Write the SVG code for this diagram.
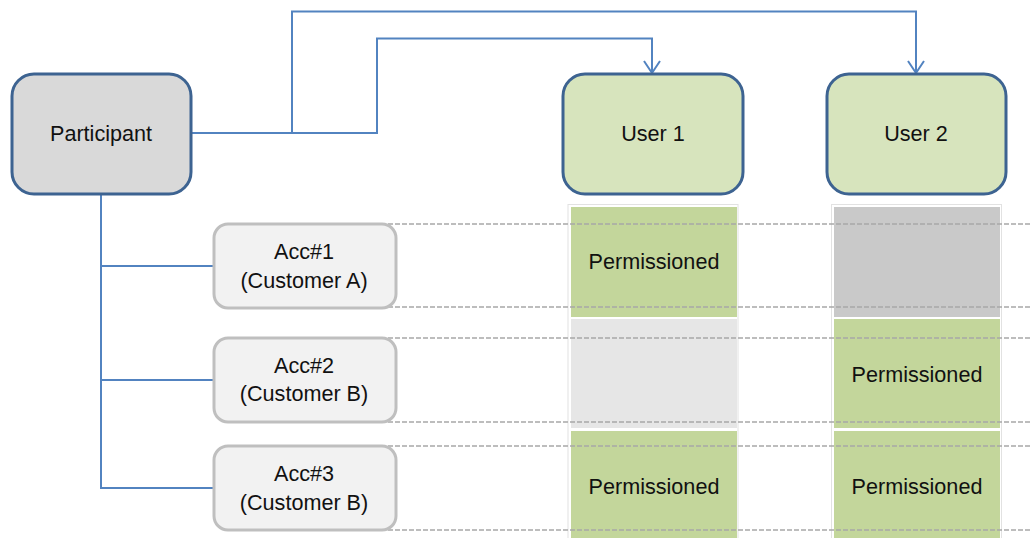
<svg xmlns="http://www.w3.org/2000/svg" width="1031" height="538" viewBox="0 0 1031 538">
<style>
text{font-family:"Liberation Sans",Arial,sans-serif;font-size:21.6px;fill:#111;text-anchor:middle}
.main{fill:#d9d9d9;stroke:#3d6391;stroke-width:3}
.user{fill:#d7e4bd;stroke:#3d6391;stroke-width:3}
.acc{fill:#f2f2f2;stroke:#bfbfbf;stroke-width:3}
.conn{fill:none;stroke:#5283c0;stroke-width:2}
.dash{stroke:#a8a8a8;stroke-width:1.5;stroke-dasharray:5 2;fill:none}
.col{fill:#fff;stroke:#e2e2e2;stroke-width:1}
.perm{fill:#c3d69b}
.none1{fill:#e6e6e6}
.none2{fill:#c9c9c9}
</style>
<defs>
<marker id="arr" markerWidth="16" markerHeight="20" refX="13" refY="9" markerUnits="userSpaceOnUse" orient="auto" viewBox="0 0 16 20">
<path d="M1,1 L13,9 L1,17" fill="none" stroke="#5283c0" stroke-width="2"/>
</marker>
</defs>
<g id="columns">
<rect class="col" x="568" y="204.5" width="170" height="340"/>
<rect class="col" x="831.5" y="204.5" width="170" height="340"/>
</g>
<g id="cells">
<rect class="perm" x="571" y="207" width="166" height="110"/>
<rect class="none1" x="571" y="319" width="166" height="109"/>
<rect class="perm" x="571" y="431" width="166" height="110"/>
<rect class="none2" x="834" y="207" width="166" height="110"/>
<rect class="perm" x="834" y="319" width="166" height="109"/>
<rect class="perm" x="834" y="431" width="166" height="110"/>
</g>
<g id="dashes">
<line class="dash" x1="388" y1="224" x2="1031" y2="224"/>
<line class="dash" x1="388" y1="307" x2="1031" y2="307"/>
<line class="dash" x1="388" y1="338" x2="1031" y2="338"/>
<line class="dash" x1="388" y1="422" x2="1031" y2="422"/>
<line class="dash" x1="388" y1="446" x2="1031" y2="446"/>
<line class="dash" x1="388" y1="530" x2="1031" y2="530"/>
</g>
<g id="cell-labels">
<text x="654" y="269">Permissioned</text>
<text x="917" y="382">Permissioned</text>
<text x="654" y="494">Permissioned</text>
<text x="917" y="494">Permissioned</text>
</g>
<g id="connectors">
<path class="conn" d="M192,133 H377 V38.5 H652 V73" marker-end="url(#arr)"/>
<path class="conn" d="M292,133 V11.5 H916 V73" marker-end="url(#arr)"/>
<path class="conn" d="M101,195 V488 H214 M101,266 H214 M101,380 H214"/>
</g>
<g id="participant">
<rect class="main" x="12" y="74" width="179" height="120" rx="22"/>
<text x="101" y="141">Participant</text>
</g>
<g id="user1">
<rect class="user" x="563" y="74" width="180" height="120" rx="22"/>
<text x="653" y="141">User 1</text>
</g>
<g id="user2">
<rect class="user" x="827" y="74" width="179" height="120" rx="22"/>
<text x="916" y="141">User 2</text>
</g>
<g id="acc1">
<rect class="acc" x="214" y="224" width="182" height="84" rx="14"/>
<text x="304" y="259">Acc#1</text>
<text x="304" y="288">(Customer A)</text>
</g>
<g id="acc2">
<rect class="acc" x="214" y="338" width="182" height="84" rx="14"/>
<text x="304" y="373">Acc#2</text>
<text x="304" y="401">(Customer B)</text>
</g>
<g id="acc3">
<rect class="acc" x="214" y="446" width="182" height="84" rx="14"/>
<text x="304" y="481">Acc#3</text>
<text x="304" y="510">(Customer B)</text>
</g>
</svg>
